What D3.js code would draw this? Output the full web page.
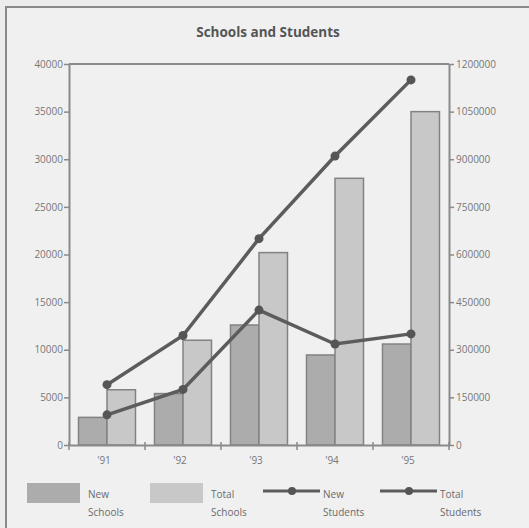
<!DOCTYPE html>
<html>
<head>
<meta charset="utf-8">
<script src="https://cdn.jsdelivr.net/npm/d3@7"></script>
<style>
  body { margin: 0; background: #ececec; }
  text { font-family: "Open Sans", "DejaVu Sans", sans-serif; fill: #777; }
</style>
</head>
<body>
<div id="chart"></div>
<script>
// data
var years = ["'91", "'92", "'93", "'94", "'95"];
var newSchools = [2900, 5400, 12600, 9450, 10600];
var totalSchools = [5800, 11000, 20200, 28000, 35000];
var newStudents = [95000, 175000, 425000, 318000, 350000];
var totalStudents = [190000, 345000, 650000, 910000, 1150000];
var leftTicks = [0, 5000, 10000, 15000, 20000, 25000, 30000, 35000, 40000];
var rightTicks = [0, 150000, 300000, 450000, 600000, 750000, 900000, 1050000, 1200000];

function init(){
  var W = 529, H = 528;
  var left = 69, right = 449, top = 64, bottom = 445;

  var svg = d3.select("#chart").append("svg")
      .attr("width", W).attr("height", H);

  // page background and outer frame
  svg.append("rect").attr("x", 0).attr("y", 0).attr("width", W).attr("height", H).attr("fill", "#ececec");
  svg.append("rect").attr("x", 6).attr("y", 7).attr("width", W + 10).attr("height", H + 10)
      .attr("fill", "#f0f0f0").attr("stroke", "#8a8a8a").attr("stroke-width", 2);

  // title
  svg.append("text")
      .attr("x", 268).attr("y", 37)
      .attr("text-anchor", "middle")
      .style("font-size", "13.5px").style("font-weight", "bold").style("fill", "#555")
      .text("Schools and Students");

  var x = d3.scaleBand().domain(years).range([left, right]).paddingInner(0.25).paddingOuter(0.125);
  var x0 = d3.scaleBand().domain(years).range([left, right]);
  var sub = d3.scaleBand().domain(["new", "total"]).range([0, x.bandwidth()]);
  var yL = d3.scaleLinear().domain([0, 40000]).range([bottom, top]);
  var yR = d3.scaleLinear().domain([0, 1200000]).range([bottom, top]);

  // plot frame (top line)
  svg.append("line").attr("x1", left).attr("x2", right).attr("y1", top).attr("y2", top)
      .attr("stroke", "#8a8a8a").attr("stroke-width", 2);

  // bars
  var groups = svg.append("g").selectAll("g")
      .data(years).enter().append("g")
      .attr("transform", function(d){ return "translate(" + x(d) + ",0)"; });

  groups.append("rect")
      .attr("x", sub("new"))
      .attr("y", function(d, i){ return yL(newSchools[i]); })
      .attr("width", sub.bandwidth())
      .attr("height", function(d, i){ return bottom - yL(newSchools[i]); })
      .attr("fill", "#acacac").attr("stroke", "#828282").attr("stroke-width", 1.5);

  groups.append("rect")
      .attr("x", sub("total"))
      .attr("y", function(d, i){ return yL(totalSchools[i]); })
      .attr("width", sub.bandwidth())
      .attr("height", function(d, i){ return bottom - yL(totalSchools[i]); })
      .attr("fill", "#c8c8c8").attr("stroke", "#828282").attr("stroke-width", 1.5);

  // lines
  var cx = function(d, i){ return x0(years[i]) + x0.bandwidth() / 2; };
  var line = d3.line().x(cx).y(function(d){ return yR(d); });

  [totalStudents, newStudents].forEach(function(series){
    svg.append("path").datum(series)
        .attr("d", line)
        .attr("fill", "none").attr("stroke", "#5c5c5c").attr("stroke-width", 3.5);
    svg.append("g").selectAll("circle").data(series).enter().append("circle")
        .attr("cx", cx).attr("cy", function(d){ return yR(d); })
        .attr("r", 4.5).attr("fill", "#555");
  });

  // axes
  var axL = svg.append("g").attr("transform", "translate(" + left + ",0)")
      .call(d3.axisLeft(yL).tickValues(leftTicks).tickSize(5).tickSizeOuter(0).tickFormat(d3.format("d")));
  var axR = svg.append("g").attr("transform", "translate(" + right + ",0)")
      .call(d3.axisRight(yR).tickValues(rightTicks).tickSize(5).tickSizeOuter(0).tickFormat(d3.format("d")));
  var axB = svg.append("g").attr("transform", "translate(0," + bottom + ")")
      .call(d3.axisBottom(x0).tickSize(0).tickSizeOuter(0));

  // x boundary ticks crossing the axis
  svg.append("g").selectAll("line")
      .data(years.concat(["end"])).enter().append("line")
      .attr("x1", function(d, i){ return left + i * x0.step(); })
      .attr("x2", function(d, i){ return left + i * x0.step(); })
      .attr("y1", bottom - 3).attr("y2", bottom + 5)
      .attr("stroke", "#8a8a8a").attr("stroke-width", 1.5);

  [axL, axR, axB].forEach(function(a){
    a.selectAll(".domain").attr("stroke", "#8a8a8a").attr("stroke-width", 2);
    a.selectAll(".tick line").attr("stroke", "#8a8a8a").attr("stroke-width", 1.5);
    a.selectAll("text").style("font-size", "10px").style("fill", "#777").attr("font-family", null);
  });
  axB.selectAll("text").attr("dy", "1.6em").attr("dx", "-0.3em");
  axL.selectAll("text").attr("x", -6);
  axR.selectAll("text").attr("x", 7);

  // legend
  var legend = svg.append("g");
  var ly = 483;
  var items = [
    { kind: "bar", fill: "#acacac", x: 27, label: ["New", "Schools"] },
    { kind: "bar", fill: "#c8c8c8", x: 150, label: ["Total", "Schools"] },
    { kind: "line", x: 263, label: ["New", "Students"] },
    { kind: "line", x: 380, label: ["Total", "Students"] }
  ];
  items.forEach(function(it){
    if (it.kind === "bar") {
      legend.append("rect").attr("x", it.x).attr("y", ly).attr("width", 53).attr("height", 20)
          .attr("fill", it.fill);
    } else {
      legend.append("line").attr("x1", it.x).attr("x2", it.x + 57).attr("y1", ly + 8).attr("y2", ly + 8)
          .attr("stroke", "#5c5c5c").attr("stroke-width", 3);
      legend.append("circle").attr("cx", it.x + 29).attr("cy", ly + 8).attr("r", 4).attr("fill", "#555");
    }
    var tx = it.kind === "bar" ? it.x + 61 : it.x + 60;
    var t = legend.append("text").attr("x", tx).attr("y", ly + 15)
        .style("font-size", "10px").style("fill", "#6a6a6a");
    t.append("tspan").attr("x", tx).attr("dy", 0).text(it.label[0]);
    t.append("tspan").attr("x", tx).attr("dy", "1.8em").text(it.label[1]);
  });
}
window.onload = init;
</script>
</body>
</html>
